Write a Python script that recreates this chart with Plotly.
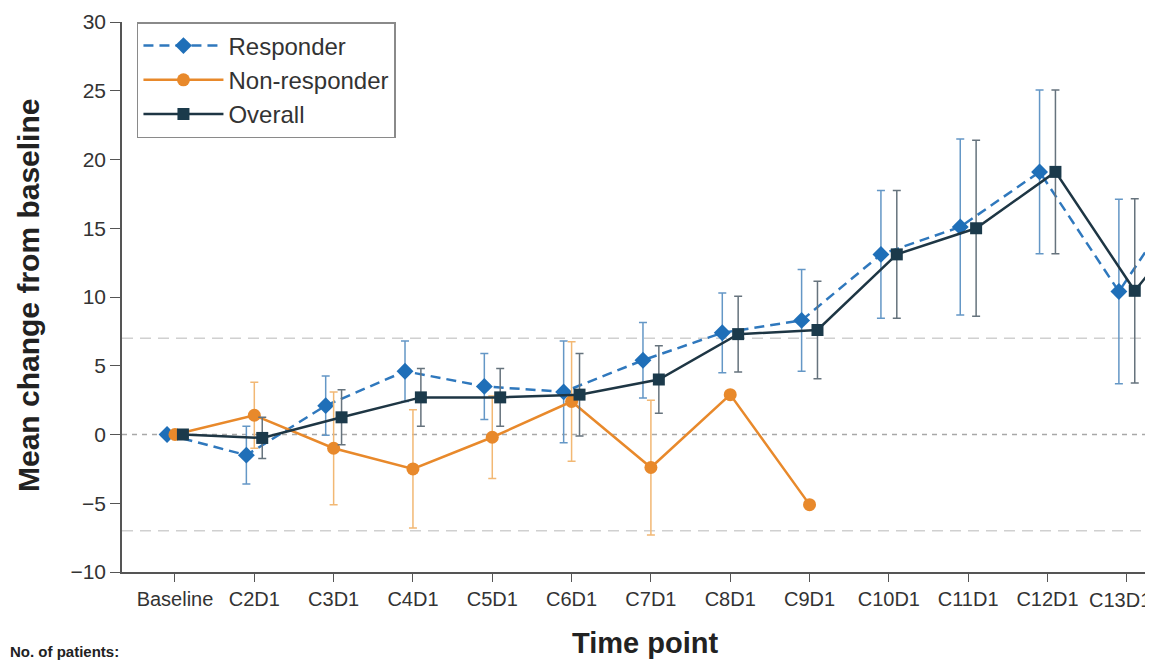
import plotly.graph_objects as go

categories = ["Baseline", "C2D1", "C3D1", "C4D1", "C5D1", "C6D1", "C7D1",
              "C8D1", "C9D1", "C10D1", "C11D1", "C12D1", "C13D1", "C14D1"]

responder_mean = [0, -1.5, 2.1, 4.6, 3.5, 3.1, 5.4, 7.4, 8.3, 13.1, 15.1, 19.1, 10.4, 19.0]
responder_err = [0, 2.1, 2.15, 2.2, 2.4, 3.7, 2.75, 2.9, 3.7, 4.65, 6.4, 5.95, 6.7, 0]

nonresp_mean = [0, 1.4, -1.0, -2.5, -0.2, 2.4, -2.4, 2.9, -5.1]
nonresp_err = [0, 2.4, 4.1, 4.3, 3.0, 4.35, 4.9, 0, 0]

overall_mean = [0, -0.25, 1.25, 2.7, 2.7, 2.9, 4.0, 7.3, 7.6, 13.1, 15.0, 19.1, 10.45, 17.6]
overall_err = [0, 1.5, 2.0, 2.1, 2.1, 3.0, 2.45, 2.75, 3.55, 4.65, 6.4, 5.95, 6.7, 0]

ref_lines = [7, -7]
y_ticks = [-10, -5, 0, 5, 10, 15, 20, 25, 30]

OFF = 0.1
idx = list(range(len(categories)))
EDGE_I = 12  # last category whose label sits on the right edge of the page

fig = go.Figure()

fig.add_trace(go.Scatter(
    x=[i - OFF for i in idx[:len(responder_mean)]], y=responder_mean,
    name="Responder", mode="lines+markers",
    line=dict(color="#2f78bd", width=2.5, dash="10px,6px"),
    marker=dict(symbol="diamond", size=13, color="#1f6fb8"),
    error_y=dict(type="data", array=responder_err, color="#6497c6", thickness=1.5, width=4),
    cliponaxis=True,
))
fig.add_trace(go.Scatter(
    x=[i for i in idx[:len(nonresp_mean)]], y=nonresp_mean,
    name="Non-responder", mode="lines+markers",
    line=dict(color="#e8892b", width=2.5),
    marker=dict(symbol="circle", size=13, color="#e8892b"),
    error_y=dict(type="data", array=nonresp_err, color="#f2b874", thickness=1.5, width=4),
    cliponaxis=True,
))
fig.add_trace(go.Scatter(
    x=[i + OFF for i in idx[:len(overall_mean)]], y=overall_mean,
    name="Overall", mode="lines+markers",
    line=dict(color="#1e3644", width=2.5),
    marker=dict(symbol="square", size=12, color="#1b3a4b"),
    error_y=dict(type="data", array=overall_err, color="#66737d", thickness=1.5, width=4),
    cliponaxis=True,
))

shapes = [dict(type="line", xref="paper", x0=0, x1=1, yref="y", y0=0, y1=0,
               line=dict(color="#a8a8a8", width=1.3, dash="5px,5px"), layer="below")]
for v in ref_lines:
    shapes.append(dict(type="line", xref="paper", x0=0, x1=1, yref="y", y0=v, y1=v,
                       line=dict(color="#d0d0d0", width=1.3, dash="11px,7px"), layer="below"))

font_main = "Arial, Liberation Sans, sans-serif"

tick_text = [("" if i == EDGE_I else c) for i, c in enumerate(categories)]

# page body has an 8px margin: figure is sized to fit the 1153x662 window exactly
fig.update_layout(
    width=1145, height=654,
    margin=dict(l=114, r=0, t=14, b=90, autoexpand=False),
    plot_bgcolor="white", paper_bgcolor="white",
    showlegend=True,
    legend=dict(x=0.0145, y=1.0, xanchor="left", yanchor="top",
                bordercolor="#8a8a8a", borderwidth=1.5, bgcolor="white",
                font=dict(family=font_main, size=24, color="#333"),
                itemwidth=80, tracegroupgap=0),
    shapes=shapes,
    xaxis=dict(range=[-0.668, 12.33], tickvals=idx, ticktext=tick_text, automargin=False,
               showgrid=False, zeroline=False, showline=True, linecolor="#555", linewidth=1.5,
               ticks="outside", ticklen=8, tickcolor="#555", tickwidth=1.2,
               tickfont=dict(family=font_main, size=20, color="#333")),
    yaxis=dict(range=[-10, 30], tickvals=y_ticks, automargin=False,
               ticktext=[("\u2212" + str(-t)) if t < 0 else str(t) for t in y_ticks],
               showgrid=False, zeroline=False, showline=True, linecolor="#555", linewidth=1.5,
               ticks="outside", ticklen=10, tickcolor="#555", tickwidth=1.2,
               tickfont=dict(family=font_main, size=21, color="#333")),
    annotations=[
        dict(text=categories[EDGE_I], xref="paper", yref="paper",
             x=1.0, y=-0.0509, xanchor="right", yanchor="middle", showarrow=False,
             font=dict(family=font_main, size=20, color="#333")),
        dict(text="<b>Mean change from baseline</b>", textangle=-90, xref="paper", yref="paper",
             x=-0.0912, y=0.5036, xanchor="center", yanchor="middle", showarrow=False,
             font=dict(family=font_main, size=30, color="#222")),
        dict(text="<b>Time point</b>", xref="paper", yref="paper",
             x=0.507, y=-0.129, xanchor="center", yanchor="middle", showarrow=False,
             font=dict(family=font_main, size=29, color="#222")),
        dict(text="<b>No. of patients:</b>", xref="paper", yref="paper",
             x=-0.1106, y=-0.1636, xanchor="left", yanchor="bottom", showarrow=False,
             font=dict(family=font_main, size=15, color="#222")),
    ],
)

fig.write_html("out.html")
